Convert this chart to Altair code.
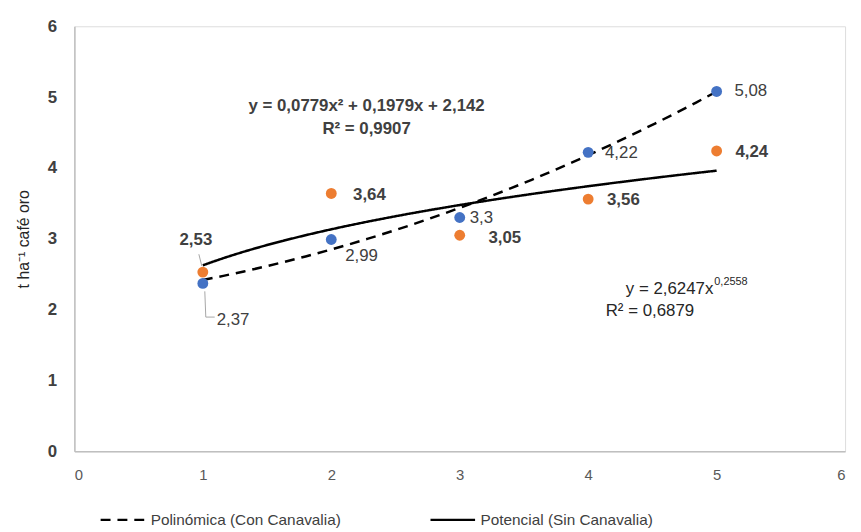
import altair as alt
import pandas as pd

# ---- data ----
x_vals = [1, 2, 3, 4, 5]
con_canavalia = [2.37, 2.99, 3.3, 4.22, 5.08]
sin_canavalia = [2.53, 3.64, 3.05, 3.56, 4.24]
con_labels = ["2,37", "2,99", "3,3", "4,22", "5,08"]
sin_labels = ["2,53", "3,64", "3,05", "3,56", "4,24"]
serie_poly = "Polinómica (Con Canavalia)"
serie_pow = "Potencial (Sin Canavalia)"
x_ticks = [0, 1, 2, 3, 4, 5, 6]
y_ticks = [0, 1, 2, 3, 4, 5, 6]

# label offsets (pixels), style only
con_dx = [14, 14, 10, 17, 18]
con_dy = [37, 17, 1, 1, 0]
sin_dx = [-7, 22, 29, 19, 19]
sin_dy = [-32, 2, 3, 1, 1]

BLUE = "#4472C4"
ORANGE = "#ED7D31"
TXT = "#404040"
FONT = "Liberation Sans"

con = pd.DataFrame({"x": x_vals, "y": con_canavalia, "label": con_labels, "serie": serie_poly})
sin = pd.DataFrame({"x": x_vals, "y": sin_canavalia, "label": sin_labels, "serie": serie_pow})

xs = alt.Scale(domain=[0, 6], nice=False)
ys = alt.Scale(domain=[0, 6], nice=False)

xaxis = alt.Axis(values=x_ticks, format="d", grid=False, ticks=False, domainColor="#BFBFBF", domainWidth=1.5,
                 labelFont=FONT, labelFontSize=15, labelColor="#595959", labelPadding=16, title=None)
yaxis = alt.Axis(values=y_ticks, format="d", grid=False, ticks=False, domainColor="#BFBFBF", domainWidth=1.5,
                 labelFont=FONT, labelFontSize=17, labelFontWeight="bold", labelColor=TXT,
                 labelPadding=18, title="t ha⁻¹ café oro", titleFont=FONT, titleFontSize=16,
                 titleFontWeight="normal", titleColor="#262626", titlePadding=16)

dash_scale = alt.Scale(domain=[serie_poly, serie_pow], range=[[10, 7], [1, 0]])
legend = alt.Legend(orient="none", legendX=25, legendY=474, direction="horizontal", title=None,
                    symbolType="stroke", symbolSize=2025, symbolStrokeWidth=2.5, symbolStrokeColor="black",
                    labelFont=FONT, labelFontSize=15.5, labelColor=TXT, labelOffset=4, labelLimit=400,
                    columnPadding=84)

poly_line = alt.Chart(con).transform_regression(
    "x", "y", method="poly", order=2, extent=[1, 5], as_=["x", "y"]
).transform_calculate(serie=f"'{serie_poly}'").mark_line(color="black", strokeWidth=2.5).encode(
    x=alt.X("x:Q", scale=xs, axis=xaxis),
    y=alt.Y("y:Q", scale=ys, axis=yaxis),
    strokeDash=alt.StrokeDash("serie:N", scale=dash_scale, legend=legend),
)

pow_line = alt.Chart(sin).transform_regression(
    "x", "y", method="pow", extent=[1, 5], as_=["x", "y"]
).transform_calculate(serie=f"'{serie_pow}'").mark_line(color="black", strokeWidth=2.5).encode(
    x=alt.X("x:Q", scale=xs),
    y=alt.Y("y:Q", scale=ys),
    strokeDash=alt.StrokeDash("serie:N", scale=dash_scale, legend=legend),
)

# leader lines for labels at x = 1
lead1 = alt.Chart(sin).transform_filter("datum.x == 1").mark_rule(
    color="#A6A6A6", strokeWidth=1, xOffset=-4, yOffset=-18, x2Offset=-1, y2Offset=-6
).encode(x="x:Q", y="y:Q", x2="x:Q", y2="y:Q")
lead2a = alt.Chart(con).transform_filter("datum.x == 1").mark_rule(
    color="#A6A6A6", strokeWidth=1, xOffset=2, yOffset=8, x2Offset=3, y2Offset=34
).encode(x="x:Q", y="y:Q", x2="x:Q", y2="y:Q")
lead2b = alt.Chart(con).transform_filter("datum.x == 1").mark_rule(
    color="#A6A6A6", strokeWidth=1, xOffset=3, yOffset=34, x2Offset=12, y2Offset=34
).encode(x="x:Q", y="y:Q", x2="x:Q", y2="y:Q")

pts_con = alt.Chart(con).mark_circle(size=120, opacity=1, color=BLUE).encode(x="x:Q", y="y:Q")
pts_sin = alt.Chart(sin).mark_circle(size=120, opacity=1, color=ORANGE).encode(x="x:Q", y="y:Q")

labels = []
for i, xv in enumerate(x_vals):
    labels.append(alt.Chart(con).transform_filter(f"datum.x == {xv}").mark_text(
        align="left", baseline="middle", dx=con_dx[i], dy=con_dy[i], font=FONT, fontSize=17,
        color=TXT).encode(x="x:Q", y="y:Q", text="label:N"))
    labels.append(alt.Chart(sin).transform_filter(f"datum.x == {xv}").mark_text(
        align="center" if i == 0 else "left", baseline="middle", dx=sin_dx[i], dy=sin_dy[i],
        font=FONT, fontSize=17, fontWeight="bold", color=TXT).encode(x="x:Q", y="y:Q", text="label:N"))

eq1 = alt.Chart(con).transform_aggregate(n="count()").mark_text(
    font=FONT, fontSize=17, fontWeight="bold", color=TXT, align="center", baseline="middle"
).encode(x=alt.value(295), y=alt.value(81), text=alt.value("y = 0,0779x² + 0,1979x + 2,142"))
eq1b = alt.Chart(con).transform_aggregate(n="count()").mark_text(
    font=FONT, fontSize=17, fontWeight="bold", color=TXT, align="center", baseline="middle"
).encode(x=alt.value(295), y=alt.value(104), text=alt.value("R² = 0,9907"))
eq2 = alt.Chart(sin).transform_aggregate(n="count()").mark_text(
    font=FONT, fontSize=17, color="#262626", align="right", baseline="middle"
).encode(x=alt.value(645), y=alt.value(265), text=alt.value("y = 2,6247x"))
eq2s = alt.Chart(sin).transform_aggregate(n="count()").mark_text(
    font=FONT, fontSize=11, color="#262626", align="left", baseline="middle"
).encode(x=alt.value(646), y=alt.value(258), text=alt.value("0,2558"))
eq2b = alt.Chart(sin).transform_aggregate(n="count()").mark_text(
    font=FONT, fontSize=17, color="#262626", align="center", baseline="middle"
).encode(x=alt.value(581), y=alt.value(287), text=alt.value("R² = 0,6879"))

chart = alt.layer(
    poly_line, pow_line, lead1, lead2a, lead2b, pts_con, pts_sin, *labels, eq1, eq1b, eq2, eq2s, eq2b
).properties(
    width=778, height=429,
    autosize=alt.AutoSizeParams(type="none"),
    padding={"left": 67, "top": 16, "right": 8, "bottom": 76},
).configure_view(stroke=None).configure(background="white")

chart.save("out.html", embed_options={"renderer": "svg", "actions": False})
